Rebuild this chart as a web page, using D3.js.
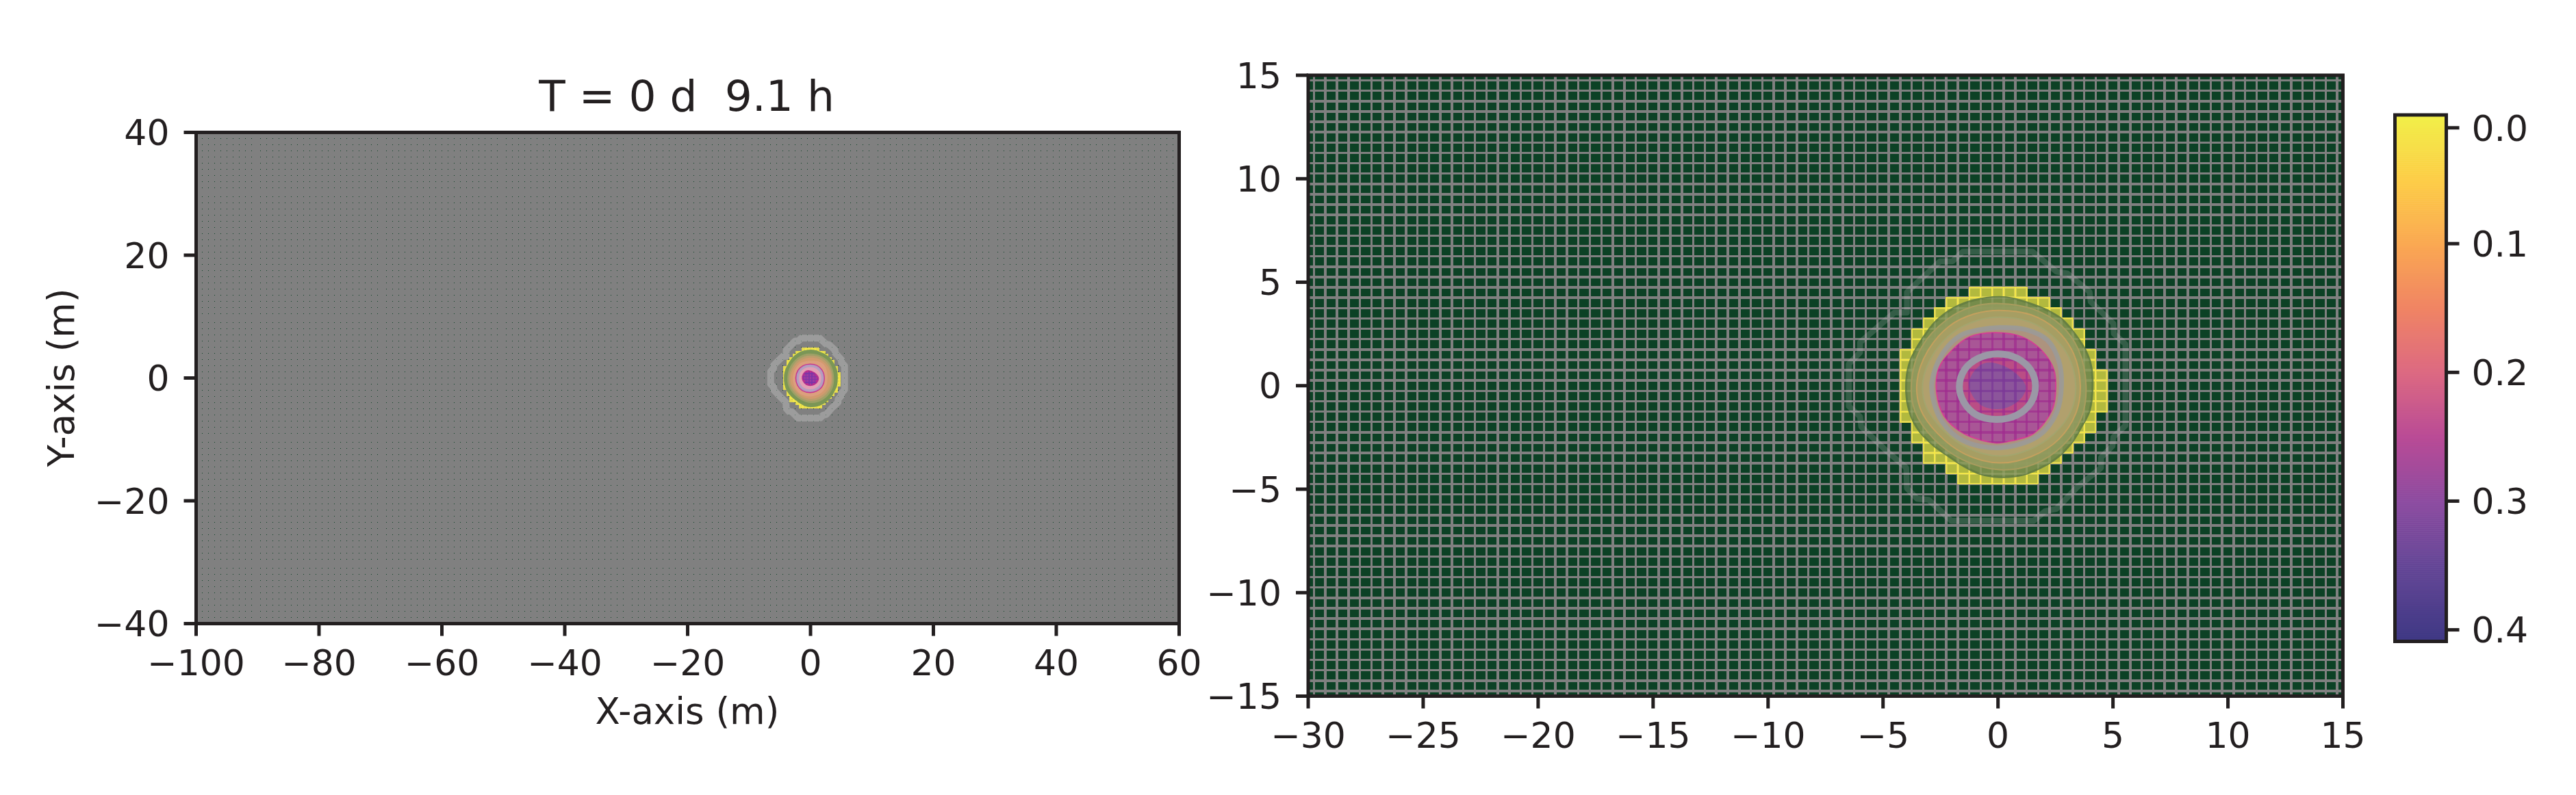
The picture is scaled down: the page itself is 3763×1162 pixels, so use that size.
<!DOCTYPE html>
<html>
<head>
<meta charset="utf-8">
<script src="https://cdn.jsdelivr.net/npm/d3@7"></script>
<style>
    body { margin: 0; background: #fff; }
    text { font-family: "DejaVu Sans"; fill: #231f20; }
    .tick line { stroke: #231f20; stroke-width: 5; }
    .domain { display: none; }
    .tick text { font-size: 52px; }
</style>
</head>
<body>
<div id="chart"></div>
<script>
// cell rows of the wetted area: row centre (m), first and last cell edge (m)
var rowY = [4.5, 4, 3.5, 3, 2.5, 2, 1.5, 1, 0.5, 0, -0.5, -1, -1.5, -2, -2.5, -3, -3.5, -4, -4.5],
    rowStart = [-1.25, -2.25, -2.75, -3.25, -3.75, -3.75, -4.25, -4.25, -4.25, -4.25, -4.25, -4.25, -4.25, -3.75, -3.75, -3.25, -3.25, -2.25, -1.75],
    rowEnd = [1.25, 2.25, 2.75, 3.25, 3.75, 3.75, 4.25, 4.25, 4.75, 4.75, 4.75, 4.75, 4.25, 4.25, 3.75, 3.25, 2.75, 2.25, 1.75],
    rowValue = 0.01,

    // contours, x and y in metres
    outerContour = [[-1.53, 6.48], [1.5, 6.48], [2.54, 5.51], [3.02, 5.42], [3.98, 4.54], [4.03, 4.06], [5.02, 3], [5.04, 2.51], [5.54, 2.01], [5.54, -1.93], [5.02, -2.48], [4.98, -2.92], [4.48, -3.47], [4.48, -3.97], [3.44, -4.91], [2.54, -5.95], [2.05, -6.06], [1.55, -6.53], [-2.03, -6.53], [-3.02, -5.51], [-3.52, -5.46], [-3.96, -4.96], [-3.99, -3.97], [-4.86, -3.14], [-5.95, -1.98], [-6, -1.49], [-6.49, -0.99], [-6.49, 1.05], [-6, 1.6], [-6, 2.09], [-4.51, 3.53], [-3.96, 3.53], [-3.96, 4.52], [-2.52, 6.01], [-1.98, 6.01]],
    rimContour = [[0.06, 4.28], [0.66, 4.21], [1.55, 3.91], [2.34, 3.53], [2.79, 3.2], [3.24, 2.65], [3.78, 1.76], [4.03, 1.05], [4.11, 0], [3.98, -1.21], [3.63, -1.98], [3.24, -2.7], [2.64, -3.42], [2.14, -3.8], [1.1, -4.3], [0.06, -4.41], [-0.83, -4.24], [-1.53, -3.86], [-2.13, -3.42], [-2.82, -2.87], [-3.52, -2.04], [-3.91, -0.99], [-3.98, 0.33], [-3.81, 1.21], [-3.32, 2.21], [-2.72, 3.09], [-1.93, 3.75], [-1.03, 4.13]],
    contour2 = [[0.06, 3.97], [1.55, 3.69], [2.74, 2.92], [3.49, 1.76], [3.83, 0], [3.63, -1.54], [2.84, -2.87], [1.55, -3.8], [0.06, -4.06], [-1.53, -3.58], [-2.82, -2.54], [-3.62, -1.21], [-3.76, 0.22], [-3.32, 1.87], [-2.22, 3.2], [-1.13, 3.81]],
    contour3 = [[0.06, 3.64], [1.45, 3.42], [2.54, 2.7], [3.29, 1.54], [3.58, 0], [3.39, -1.32], [2.64, -2.59], [1.45, -3.42], [0.06, -3.73], [-1.43, -3.31], [-2.62, -2.32], [-3.38, -1.1], [-3.52, 0.22], [-3.07, 1.65], [-2.13, 2.87], [-1.03, 3.47]],
    contour4 = [[0.06, 3.31], [1.35, 3.09], [2.34, 2.43], [3.07, 1.4], [3.38, 0], [3.18, -1.21], [2.44, -2.32], [1.35, -3.09], [0.06, -3.4], [-1.33, -3], [-2.42, -2.1], [-3.13, -1], [-3.27, 0.2], [-2.83, 1.5], [-1.93, 2.6], [-0.93, 3.14]],
    grayRing = [[0.06, 2.81], [1.25, 2.7], [2.14, 2.21], [2.64, 1.21], [2.76, 0], [2.54, -1.32], [1.75, -2.43], [0.06, -3], [-1.53, -2.65], [-2.42, -1.76], [-2.82, -0.66], [-2.87, 0.22], [-2.42, 1.54], [-1.63, 2.43], [-0.83, 2.7]],
    pinkContour = [[-0.14, 2.56], [1.05, 2.35], [1.9, 1.7], [2.42, 0.8], [2.51, -0.1], [2.36, -1.15], [1.55, -2.3], [0.4, -2.7], [-0.14, -2.76], [-1.5, -2.3], [-2.35, -1.45], [-2.67, -0.3], [-2.57, 0.85], [-2.05, 1.65], [-1.25, 2.35]],
    innerRing = [[0, 1.54], [0.85, 1.32], [1.43, 0.75], [1.63, 0], [1.43, -0.82], [0.82, -1.42], [-0.1, -1.63], [-0.95, -1.4], [-1.48, -0.8], [-1.68, -0.05], [-1.45, 0.78], [-0.85, 1.33]],
    purpleContour = [[-0.34, 1.12], [0.56, 0.77], [1.2, 0], [1.05, -0.55], [0.26, -1.1], [-0.64, -1], [-1.13, -0.44], [-1.25, 0.22], [-0.83, 0.94]],
    // the wide view has its pink edge a bit further in
    wideRing = [[-0.1, 2.19], [1, 2], [1.8, 1.3], [2.19, 0], [1.8, -1.4], [0.9, -2.1], [-0.1, -2.3], [-1.3, -2], [-2.05, -1.2], [-2.34, 0], [-2, 1.2], [-1.2, 1.95]],
    wideInnerRing = [[-0.1, 1.97], [0.9, 1.8], [1.62, 1.17], [1.97, 0], [1.62, -1.26], [0.81, -1.89], [-0.1, -2.07], [-1.17, -1.8], [-1.85, -1.08], [-2.1, 0], [-1.8, 1.08], [-1.08, 1.76]],

    leftXTicks = [-100, -80, -60, -40, -20, 0, 20, 40, 60],
    leftYTicks = [-40, -20, 0, 20, 40],
    rightXTicks = [-30, -25, -20, -15, -10, -5, 0, 5, 10, 15],
    rightYTicks = [-15, -10, -5, 0, 5, 10, 15],
    colorTicks = [0.01, 0.1, 0.2, 0.3, 0.4],
    colorStopValues = [0, 0.05, 0.1, 0.15, 0.2, 0.25, 0.3, 0.35, 0.409],
    colorStops = ["#f1ef48", "#fdcd46", "#faa852", "#f08464", "#dc6982", "#b94b96", "#8c4ba0", "#644696", "#3e3884"],
    titleText = "T = 0 d  9.1 h",

    widthGlobal = 3763,
    heightGlobal = 1162,
    ink = "#231f20",
    grey = "#808080",
    green = "#0c4125",

    svg = d3.select("#chart").append("svg")
        .attr("width", widthGlobal)
        .attr("height", heightGlobal)
        .style("display", "block"),

    barColor = d3.scaleLinear().domain(colorStopValues).range(colorStops),

    smoothPath = d3.line().curve(d3.curveCatmullRomClosed.alpha(0.5)),
    straightPath = d3.line().curve(d3.curveLinearClosed);

function drawPanel(id, x, y, xTicks, yTicks, look) {
    var g = svg.append("g"),
        xRange = x.range(),
        yRange = y.range(),
        xLines = d3.range(Math.round((x.domain()[1] - x.domain()[0]) * 2)).map(function (i) { return x.domain()[0] + 0.25 + i * 0.5; }),
        yLines = d3.range(Math.round((y.domain()[1] - y.domain()[0]) * 2)).map(function (i) { return y.domain()[0] + 0.25 + i * 0.5; }),
        cells = [],
        project = function (pts) { return pts.map(function (p) { return [x(p[0]), y(p[1])]; }); };

    g.append("clipPath").attr("id", id + "-clip").append("rect")
        .attr("x", xRange[0]).attr("y", yRange[1])
        .attr("width", xRange[1] - xRange[0]).attr("height", yRange[0] - yRange[1]);

    var plot = g.append("g").attr("clip-path", "url(#" + id + "-clip)");

    plot.append("rect")
        .attr("x", xRange[0]).attr("y", yRange[1])
        .attr("width", xRange[1] - xRange[0]).attr("height", yRange[0] - yRange[1])
        .attr("fill", green);

    function grid(parent, stroke, width, opacity) {
        var l = parent.append("g")
            .attr("stroke", stroke)
            .attr("stroke-width", width)
            .attr("stroke-opacity", opacity)
            .attr("shape-rendering", "crispEdges");
        l.selectAll("line.v").data(xLines).enter().append("line")
            .attr("class", "v")
            .attr("x1", function (d) { return x(d); }).attr("x2", function (d) { return x(d); })
            .attr("y1", yRange[0]).attr("y2", yRange[1]);
        l.selectAll("line.h").data(yLines).enter().append("line")
            .attr("class", "h")
            .attr("y1", function (d) { return y(d); }).attr("y2", function (d) { return y(d); })
            .attr("x1", xRange[0]).attr("x2", xRange[1]);
    }

    grid(plot, grey, look.gridWidth, 1);

    rowY.forEach(function (r, i) {
        d3.range(rowStart[i], rowEnd[i] - 0.01, 0.5).forEach(function (c) {
            cells.push({x: c, y: r, v: rowValue});
        });
    });
    plot.append("g").selectAll("rect").data(cells).enter().append("rect")
        .attr("x", function (d) { return x(d.x); })
        .attr("y", function (d) { return y(d.y + 0.25); })
        .attr("width", function (d) { return x(d.x + 0.5) - x(d.x); })
        .attr("height", function (d) { return y(d.y - 0.25) - y(d.y + 0.25); })
        .attr("fill", function (d) { return barColor(d.v); })
        .attr("fill-opacity", 0.72)
        .attr("stroke", function (d) { return barColor(d.v); })
        .attr("stroke-width", look.cellEdge)
        .attr("stroke-opacity", 0.85)
        .attr("shape-rendering", "crispEdges");

    // filled contour stack
    look.fills.forEach(function (f, i) {
        plot.append("path")
            .attr("d", smoothPath(project(f.pts)))
            .attr("fill", f.fill)
            .attr("fill-opacity", f.alpha)
            .attr("stroke", f.edge || "none")
            .attr("stroke-width", f.edgeWidth || 0)
            .attr("stroke-opacity", f.edgeAlpha || 1);
        if (f.lines) {
            g.append("clipPath").attr("id", id + "-fill" + i).append("path")
                .attr("d", smoothPath(project(f.pts)));
            grid(plot.append("g").attr("clip-path", "url(#" + id + "-fill" + i + ")"), f.lines, look.lineWidth, f.linesAlpha);
        }
    });

    // open contour bands on top
    plot.append("path")
        .attr("d", straightPath(project(outerContour)))
        .attr("fill", "none")
        .attr("stroke", look.outer)
        .attr("stroke-opacity", look.outerAlpha)
        .attr("stroke-width", look.outerWidth)
        .attr("stroke-linejoin", "round");
    look.rings.forEach(function (r) {
        plot.append("path")
            .attr("d", smoothPath(project(r.pts)))
            .attr("fill", "none")
            .attr("stroke", r.stroke)
            .attr("stroke-opacity", r.alpha)
            .attr("stroke-width", r.width);
    });

    g.append("rect")
        .attr("x", xRange[0]).attr("y", yRange[1])
        .attr("width", xRange[1] - xRange[0]).attr("height", yRange[0] - yRange[1])
        .attr("fill", "none").attr("stroke", ink).attr("stroke-width", 5);

    g.append("g")
        .attr("transform", "translate(0," + yRange[0] + ")")
        .call(d3.axisBottom(x).tickValues(xTicks).tickSize(18).tickPadding(21).offset(0));
    g.append("g")
        .attr("transform", "translate(" + xRange[0] + ",0)")
        .call(d3.axisLeft(y).tickValues(yTicks).tickSize(18).tickPadding(21).offset(0))
        .selectAll("text").attr("dy", "0.36em");
}

var leftLook = {
        gridWidth: 4,
        lineWidth: 1.5,
        cellEdge: 3,
        outer: "#c4c4c4", outerAlpha: 0.42, outerWidth: 10,
        fills: [
            {pts: rimContour, fill: "#7f9a5c", alpha: 0.95, edge: "#7b9656", edgeWidth: 6},
            {pts: contour2, fill: "#9ea067", alpha: 0.95},
            {pts: contour3, fill: "#bd9d6d", alpha: 0.95},
            {pts: contour4, fill: "#d39a70", alpha: 0.95},
            {pts: grayRing, fill: "#dca07f", alpha: 0.9},
            {pts: wideRing, fill: "#e39fb5", alpha: 1, edge: "#c8308e", edgeWidth: 2.5},
            {pts: purpleContour, fill: "#9c3aa0", alpha: 1, edge: "#bb2f8e", edgeWidth: 3, lines: "#7a35a8", linesAlpha: 0.8}
        ],
        rings: [{pts: wideInnerRing, stroke: "#b09ec0", alpha: 0.9, width: 4}]
    },
    rightLook = {
        gridWidth: 3.5,
        lineWidth: 3.5,
        cellEdge: 2,
        outer: "#c4c4c4", outerAlpha: 0.22, outerWidth: 8.5,
        fills: [
            {pts: rimContour, fill: "#71884c", alpha: 0.92, edge: "#667f42", edgeWidth: 3, lines: "#a3ad7c", linesAlpha: 0.35},
            {pts: contour2, fill: "#929a5e", alpha: 0.9, edge: "#a89c5e", edgeWidth: 2},
            {pts: contour3, fill: "#a89f64", alpha: 0.9, edge: "#c4a05e", edgeWidth: 2},
            {pts: contour4, fill: "#b3a06e", alpha: 0.9, edge: "#a3a56f", edgeWidth: 2},
            {pts: grayRing, fill: "#ad927f", alpha: 0.95},
            {pts: pinkContour, fill: "#a95696", alpha: 1, edge: "#d23f95", edgeWidth: 2, lines: "#a02c8e", linesAlpha: 0.7},
            {pts: innerRing, fill: "#ba4e85", alpha: 1, lines: "#a02c8e", linesAlpha: 0.7},
            {pts: purpleContour, fill: "#8c559b", alpha: 1, lines: "#7c3a97", linesAlpha: 0.8}
        ],
        rings: [
            {pts: grayRing, stroke: "#9a9a9a", alpha: 0.85, width: 7},
            {pts: innerRing, stroke: "#9b97a6", alpha: 1, width: 10}
        ]
    };

drawPanel("left",
    d3.scaleLinear().domain([-100, 60]).range([286.5, 1722.5]),
    d3.scaleLinear().domain([-40, 40]).range([911.5, 193.5]),
    leftXTicks, leftYTicks, leftLook);

drawPanel("right",
    d3.scaleLinear().domain([-30, 15]).range([1911, 3422.5]),
    d3.scaleLinear().domain([-15, 15]).range([1017.5, 110]),
    rightXTicks, rightYTicks, rightLook);

// labels
svg.append("text")
    .attr("x", 1003).attr("y", 162)
    .attr("text-anchor", "middle")
    .style("font-size", "63px")
    .style("white-space", "pre")
    .text(titleText);
svg.append("text")
    .attr("x", 1004).attr("y", 1058)
    .attr("text-anchor", "middle")
    .style("font-size", "53px")
    .text("X-axis (m)");
svg.append("text")
    .attr("transform", "translate(108,552) rotate(-90)")
    .attr("text-anchor", "middle")
    .style("font-size", "53px")
    .text("Y-axis (m)");

// colorbar
var cbar = svg.append("g"),
    cbarX = [3498.5, 3573.5],
    cbarY = d3.scaleLinear().domain([0, 0.409]).range([168, 937.5]),
    steps = d3.range(0, 0.409, 0.409 / 256);

cbar.selectAll("rect.step").data(steps).enter().append("rect")
    .attr("class", "step")
    .attr("x", cbarX[0])
    .attr("width", cbarX[1] - cbarX[0])
    .attr("y", function (d) { return cbarY(d); })
    .attr("height", cbarY(0.409 / 256) - cbarY(0) + 0.6)
    .attr("fill", function (d) { return barColor(d); });
cbar.append("rect")
    .attr("x", cbarX[0]).attr("y", cbarY.range()[0])
    .attr("width", cbarX[1] - cbarX[0])
    .attr("height", cbarY.range()[1] - cbarY.range()[0])
    .attr("fill", "none").attr("stroke", ink).attr("stroke-width", 5);
cbar.append("g")
    .attr("transform", "translate(" + cbarX[1] + ",0)")
    .call(d3.axisRight(cbarY).tickValues(colorTicks).tickFormat(d3.format(".1f")).tickSize(19).tickPadding(18).offset(0))
    .selectAll("text").attr("dy", "0.36em");
</script>
</body>
</html>
